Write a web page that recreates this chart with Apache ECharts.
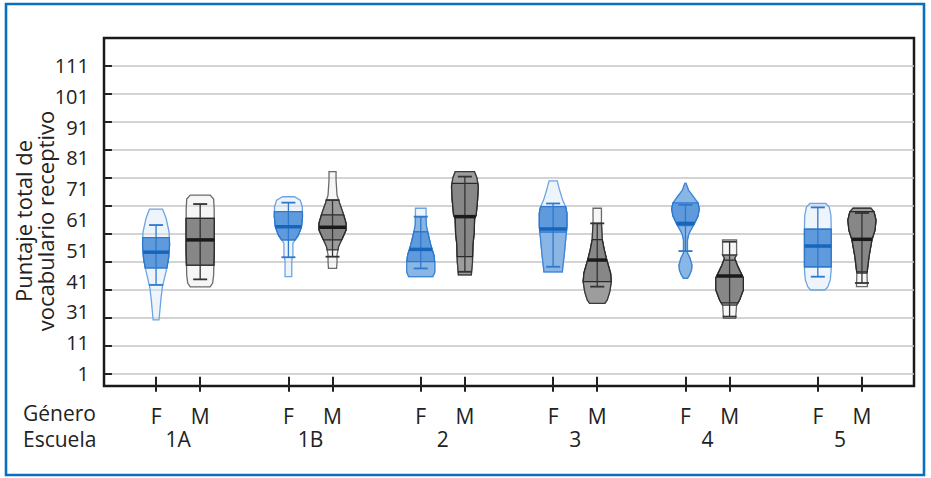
<!DOCTYPE html>
<html><head><meta charset="utf-8">
<script src="https://cdn.jsdelivr.net/npm/echarts@6/dist/echarts.min.js"></script>
<style>html,body{margin:0;padding:0;background:#fff}#c{width:931px;height:478px}</style>
</head><body><div id="c"></div>
<script>
// ---------- data ----------
const schools = ['1A', '1B', '2', '3', '4', '5'];
const genders = ['F', 'M'];
const yTickLabels = ['1', '11', '31', '41', '51', '61', '71', '81', '91', '101', '111'];
const gridValues = [1, 11, 21, 31, 41, 51, 61, 71, 81, 91, 101, 111];

// violin order: 1A F, 1A M, 1B F, 1B M, 2 F, 2 M, 3 F, 3 M, 4 F, 4 M, 5 F, 5 M
// each profile: [score, relative density]
const profile1AF = [[59.9,0.46],[56.7,0.71],[51.7,0.93],[47.1,0.96],[42.4,0.89],[38.9,0.77],[34.6,0.57],[31.7,0.44],[27.4,0.34],[20.3,0.21]];
const profile1AM = [[64.9,0.71],[63.5,0.96],[59.6,1.0],[45.3,1.0],[36.4,0.96],[33.5,0.89],[32.1,0.71]];
const profile1BF = [[64.3,0.43],[63.1,0.84],[60.75,0.99],[57.2,1.0],[53.6,0.93],[50.6,0.71],[48.9,0.48],[47.7,0.32],[42.9,0.32],[41.7,0.24],[35.75,0.24]];
const profile1BM = [[73.3,0.25],[70.3,0.25],[64.9,0.32],[62.1,0.5],[58.5,0.75],[54.9,0.96],[52.4,0.96],[49.6,0.71],[46.5,0.43],[43.5,0.32],[41.0,0.32],[38.75,0.29]];
const profile2F  = [[60.2,0.38],[57.2,0.38],[54.2,0.39],[50.6,0.54],[47.1,0.71],[43.5,0.93],[40.6,1.0],[37.4,1.0],[35.75,0.86]];
const profile2M  = [[73.3,0.68],[71.0,0.86],[67.9,0.95],[63.1,0.9],[57.7,0.8],[56.5,0.69],[51.4,0.66],[47.1,0.57],[41.0,0.54],[36.4,0.46]];
const profile3F  = [[70.0,0.29],[66.7,0.46],[63.1,0.68],[60.75,0.89],[58.5,0.98],[53.6,0.98],[48.9,0.89],[43.5,0.79],[38.9,0.68],[37.5,0.66]];
const profile3M  = [[60.2,0.3],[54.8,0.3],[48.9,0.36],[45.3,0.5],[41.7,0.68],[37.0,0.95],[33.9,1.0],[30.3,0.89],[27.4,0.71],[26.2,0.54]];
const profile4F  = [[69.1,0.04],[66.7,0.21],[64.3,0.57],[62.1,0.89],[59.9,0.98],[57.4,0.89],[54.8,0.64],[51.2,0.25],[48.9,0.14],[44.2,0.14],[42.4,0.32],[39.9,0.46],[38.1,0.43],[36.4,0.29],[35.2,0.14]];
const profile4M  = [[48.9,0.5],[43.5,0.5],[42.4,0.36],[39.9,0.54],[38.1,0.71],[35.3,0.98],[31.0,0.98],[27.4,0.71],[25.6,0.5],[20.9,0.43]];
const profile5F  = [[61.9,0.57],[60.6,0.81],[57.8,0.93],[54.9,0.95],[38.1,0.95],[34.6,0.89],[32.1,0.71],[31.0,0.5]];
const profile5M  = [[60.2,0.64],[58.9,0.86],[56.0,1.0],[52.4,0.93],[48.9,0.71],[42.9,0.5],[37.0,0.36],[32.2,0.39]];
const violinProfiles = [profile1AF, profile1AM, profile1BF, profile1BM, profile2F, profile2M,
                        profile3F, profile3M, profile4F, profile4M, profile5F, profile5M];

const medians     = [44.5, 48.9, 53.6, 53.4, 45.5, 57.2, 52.8, 41.7, 54.8, 36.0, 46.7, 49.1];
const q1          = [38.9, 39.9, 48.9, 48.9, 41.1, 42.9, 51.7, 34.0, 54.0, 26.4, 39.3, 37.5];
const q3          = [49.7, 56.6, 59.0, 57.8, 51.8, 69.1, 60.75, 49.0, 62.1, 41.7, 52.7, 59.0];
const whiskerLow  = [32.8, 34.8, 42.7, 42.9, 38.7, 37.5, 39.3, 32.2, 44.9, 21.5, 35.75, 33.5];
const whiskerHigh = [54.2, 61.7, 62.2, 63.1, 57.2, 71.5, 61.9, 54.8, 61.4, 48.25, 60.5, 58.5];
const fillLow     = [38.9, 39.9, 48.9, 45.3, 35.75, 36.4, 37.5, 26.2, 35.2, 25.6, 39.3, 37.0];
const fillHigh    = [49.7, 56.6, 59.0, 63.1, 57.2, 73.3, 60.75, 54.8, 69.1, 43.5, 52.7, 60.2];

// ---------- layout helpers ----------
const xPositions = violinProfiles.map((p, i) => 3 * Math.floor(i / 2) + 1 + (i % 2));
const groupCenters = schools.map((s, g) => 3 * g + 1.5);
const FONT = '"Open Sans", "DejaVu Sans", sans-serif';

function widthAt(prof, v) {
  if (v >= prof[0][0]) return prof[0][1];
  for (let k = 0; k < prof.length - 1; k++) {
    const a = prof[k], b = prof[k + 1];
    if (v <= a[0] && v >= b[0]) {
      const t = (a[0] - v) / (a[0] - b[0] || 1);
      return a[1] + (b[1] - a[1]) * t;
    }
  }
  return prof[prof.length - 1][1];
}

function renderItem(params, api) {
  const i = api.value(2);
  const xv = api.value(0);
  const cx = api.coord([xv, 0])[0];
  const W = api.size([1, 0])[0] * 0.318;
  const isF = i % 2 === 0;
  const prof = violinProfiles[i];
  const yOf = v => api.coord([xv, v])[1];

  function clipPoly(lo, hi) {
    const top = Math.min(hi, prof[0][0]);
    const bot = Math.max(lo, prof[prof.length - 1][0]);
    const pts = [[top, widthAt(prof, top)]];
    prof.forEach(p => { if (p[0] < top && p[0] > bot) pts.push(p); });
    pts.push([bot, widthAt(prof, bot)]);
    const left = pts.map(p => [cx - p[1] * W, yOf(p[0])]);
    const right = pts.slice().reverse().map(p => [cx + p[1] * W, yOf(p[0])]);
    return left.concat(right);
  }

  const c = isF ? {
    outFill: 'rgba(215,230,248,0.45)', outStroke: '#6ea4e2',
    midFill: '#8ab6e6', midStroke: '#3f86d6',
    boxFill: '#5f9bdc', boxStroke: '#2f78cc',
    whisk: '#2f78cc', med: '#1766bd'
  } : {
    outFill: 'rgba(235,235,235,0.45)', outStroke: '#6a6a6a',
    midFill: '#9d9d9d', midStroke: '#3a3a3a',
    boxFill: '#878787', boxStroke: '#2a2a2a',
    whisk: '#333333', med: '#1a1a1a'
  };

  const children = [];
  children.push({ type: 'polygon', shape: { points: clipPoly(-1e9, 1e9) },
    style: { fill: c.outFill, stroke: c.outStroke, lineWidth: 1.3 } });
  children.push({ type: 'polygon', shape: { points: clipPoly(fillLow[i], fillHigh[i]) },
    style: { fill: c.midFill, stroke: c.midStroke, lineWidth: 1.3 } });
  children.push({ type: 'polygon', shape: { points: clipPoly(q1[i], q3[i]) },
    style: { fill: c.boxFill, stroke: c.boxStroke, lineWidth: 1.3 } });
  const yl = yOf(whiskerLow[i]), yh = yOf(whiskerHigh[i]);
  children.push({ type: 'line', shape: { x1: cx, y1: yl, x2: cx, y2: yh },
    style: { stroke: c.whisk, lineWidth: 1.3 } });
  const cap = W * 0.5;
  children.push({ type: 'line', shape: { x1: cx - cap, y1: yl, x2: cx + cap, y2: yl },
    style: { stroke: c.whisk, lineWidth: 1.8 } });
  children.push({ type: 'line', shape: { x1: cx - cap, y1: yh, x2: cx + cap, y2: yh },
    style: { stroke: c.whisk, lineWidth: 1.8 } });
  const mw = widthAt(prof, medians[i]) * W;
  const ym = yOf(medians[i]);
  children.push({ type: 'line', shape: { x1: cx - mw, y1: ym, x2: cx + mw, y2: ym },
    style: { stroke: c.med, lineWidth: 3.5 } });
  return { type: 'group', children: children };
}

const chart = echarts.init(document.getElementById('c'), null, { renderer: 'svg' });
chart.setOption({
  animation: false,
  backgroundColor: '#ffffff',
  grid: { left: 104, right: 17, top: 38, bottom: 92, show: true, borderColor: '#1a1a1a',
          borderWidth: 2.5, backgroundColor: 'transparent', containLabel: false, outerBoundsMode: 'none' },
  xAxis: [
    { type: 'value', min: -0.18, max: 18.18, position: 'bottom',
      axisLine: { show: false }, splitLine: { show: false },
      axisTick: { show: true, customValues: xPositions, length: 15, inside: false,
                  lineStyle: { color: '#222', width: 2 } },
      axisLabel: { customValues: xPositions, margin: 19, fontSize: 21, fontFamily: FONT, color: '#222',
        formatter: v => { const i = xPositions.findIndex(p => Math.abs(p - v) < 1e-6); return i < 0 ? '' : genders[i % 2]; } } },
    { type: 'value', min: -0.18, max: 18.18, position: 'bottom',
      axisLine: { show: false }, splitLine: { show: false }, axisTick: { show: false },
      axisLabel: { customValues: groupCenters, margin: 42, fontSize: 21, fontFamily: FONT, color: '#222',
        formatter: v => schools[Math.round((v - 1.5) / 3)] } }
  ],
  yAxis: [
    { type: 'value', min: -3.286, max: 121, position: 'left',
      axisLine: { show: false },
      axisTick: { show: true, customValues: gridValues, length: 8, lineStyle: { color: '#222', width: 2 } },
      axisLabel: { show: false },
      splitLine: { show: true, lineStyle: { color: '#c4c4c4', width: 1.5 } } },
    { type: 'value', min: -0.413, max: 10.9, position: 'left',
      axisLine: { show: false }, axisTick: { show: false }, splitLine: { show: false },
      axisLabel: { customValues: [0,1,2,3,4,5,6,7,8,9,10], margin: 15, fontSize: 20, fontFamily: FONT, color: '#222',
        formatter: v => yTickLabels[Math.round(v)] } }
  ],
  graphic: [
    { type: 'rect', shape: { x: 6, y: 4, width: 918, height: 471 },
      style: { fill: 'none', stroke: '#0a6fbd', lineWidth: 2.6 }, silent: true },
    { type: 'text', x: 23, y: 413, style: { text: 'Género', font: '21px ' + FONT, fill: '#222',
      lineHeight: 21, textAlign: 'left', textVerticalAlign: 'middle', verticalAlign: 'middle' } },
    { type: 'text', x: 23, y: 439, style: { text: 'Escuela', font: '21px ' + FONT, fill: '#222',
      lineHeight: 21, textAlign: 'left', textVerticalAlign: 'middle', verticalAlign: 'middle' } },
    { type: 'text', x: 34, y: 221, rotation: Math.PI / 2,
      style: { text: 'Puntaje total de\nvocabulario receptivo', font: '22px ' + FONT, fill: '#222',
        lineHeight: 22, textAlign: 'center', align: 'center', textVerticalAlign: 'middle', verticalAlign: 'middle' } }
  ],
  series: [{
    type: 'custom', xAxisIndex: 0, yAxisIndex: 0, clip: false,
    renderItem: renderItem,
    encode: { x: 0, y: 1 },
    data: xPositions.map((x, i) => [x, medians[i], i])
  }]
});
</script></body></html>
